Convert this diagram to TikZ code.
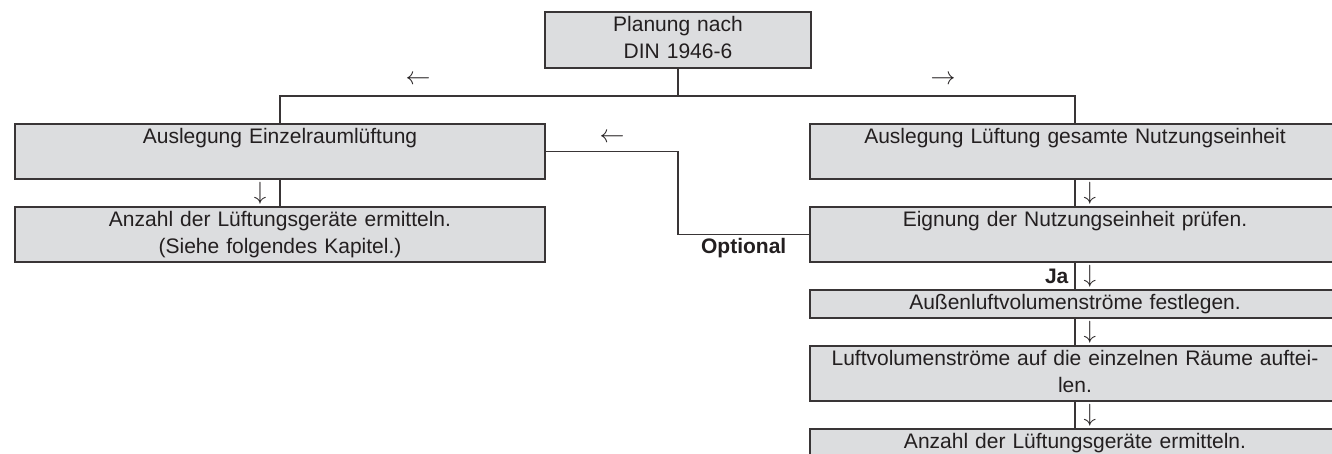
\documentclass[tikz,border=0pt]{standalone}
\usepackage{fontspec}
\setmainfont{Liberation Sans}
\definecolor{boxgray}{HTML}{DCDDDF}
\definecolor{ink}{HTML}{231F20}

\begin{document}
\begin{tikzpicture}
  [x=1pt,y=-1pt,
   every node/.style={text=ink,inner sep=6pt,font=\fontsize{21}{27}\selectfont},
   box/.style={draw=ink!90,fill=boxgray,line width=1.3pt,inner sep=0pt,
     minimum width=530pt,minimum height=55pt,text width=520pt,align=center,
     execute at begin node=\strut,execute at end node=\strut},
   flat/.style={box,minimum height=28pt},
   tag/.style={font=\fontsize{21}{27}\selectfont\bfseries},
   sign/.style={inner sep=8pt,font=\fontsize{25}{27}\selectfont},
   wire/.style={draw=ink!90,line width=1.3pt}]
  \useasboundingbox (0,0) rectangle (1332,454);
  \clip (0,0) rectangle (1332,454);

  \node[box,minimum width=266pt,minimum height=56pt,text width=260pt] (plan) at (678,40) {Planung nach\\DIN 1946-6};

  \node[box] (einzel) at (280,151.5) {Auslegung Einzelraumlüftung\\\mbox{}};
  \node[box] (anzahlA) at (280,234.5) {Anzahl der Lüftungsgeräte ermitteln.\\(Siehe folgendes Kapitel.)};

  \node[box] (gesamt) at (1075,151.5) {Auslegung Lüftung gesamte Nutzungseinheit\\\mbox{}};
  \node[box] (eignung) at (1075,234.5) {Eignung der Nutzungseinheit prüfen.\\\mbox{}};
  \node[flat] (aussen) at (1075,304) {Außenluftvolumenströme festlegen.};
  \node[box] (raeume) at (1075,373.5) {Luftvolumenströme auf die einzelnen Räume auftei-\\len.};
  \node[box] (anzahlB) at (1075,456.5) {Anzahl der Lüftungsgeräte ermitteln.\\\mbox{}};

  \coordinate (split) at (678,96);
  \node[sign] (toleft) at (418,80) {$\leftarrow$};
  \node[sign] (toright) at (943,80) {$\rightarrow$};
  \node[sign] (back) at (612,138) {$\leftarrow$};

  \draw[wire] (plan) -- (split);
  \draw[wire] (einzel.north) |- (split) -| (gesamt.north);
  \draw[wire] (einzel.east) -| (plan.south |- eignung.west) -- node[below,tag,inner sep=3pt] {Optional} (eignung.west);

  \draw[wire] (einzel) -- node[left,sign,xshift=-5pt] {$\downarrow$} (anzahlA);
  \draw[wire] (gesamt) -- node[right,sign] {$\downarrow$} (eignung);
  \draw[wire] (eignung) -- node[left,tag] {Ja} node[right,sign] {$\downarrow$} (aussen);
  \draw[wire] (aussen) -- node[right,sign] {$\downarrow$} (raeume);
  \draw[wire] (raeume) -- node[right,sign] {$\downarrow$} (anzahlB);
\end{tikzpicture}
\end{document}
